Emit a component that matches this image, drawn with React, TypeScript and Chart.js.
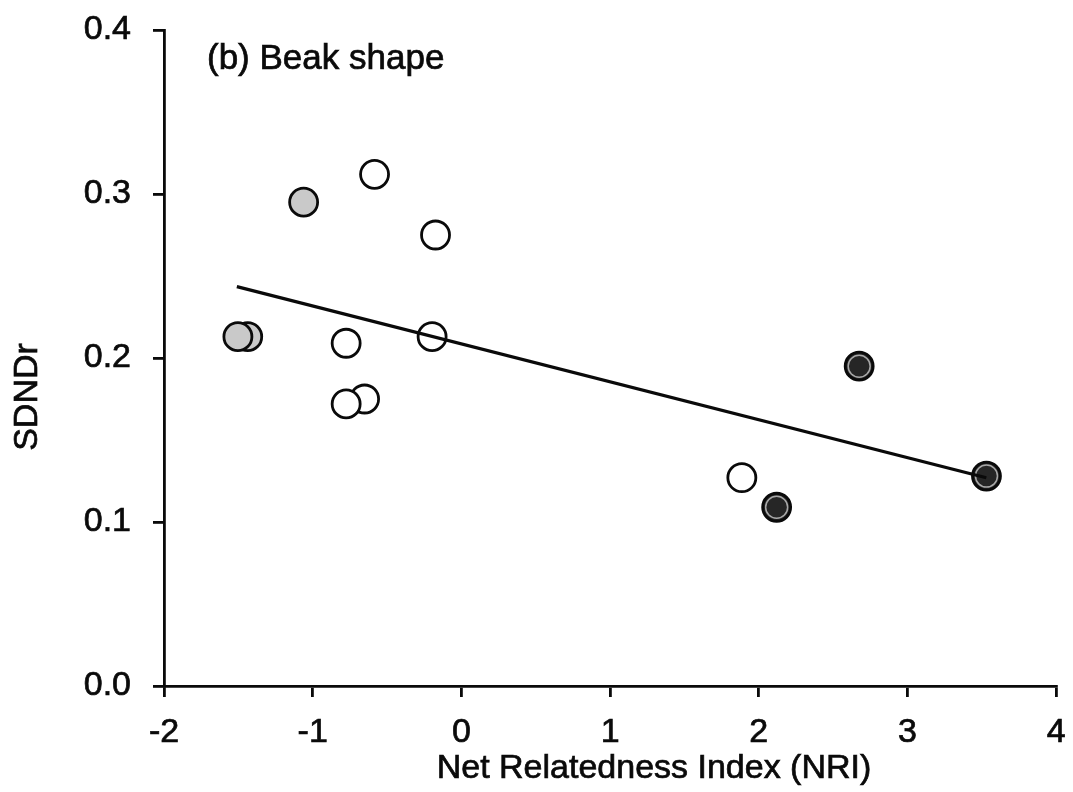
import React, { useEffect, useRef } from "react";
import { Chart, registerables } from "chart.js";

Chart.register(...registerables);

// Axis ticks
const xTicks = [-2, -1, 0, 1, 2, 3, 4];
const yTicks = [0, 0.1, 0.2, 0.3, 0.4];

// Open circles
const openNRI = [-0.584, -0.174, -0.775, -0.197, -0.651, -0.775, 1.886];
const openSDNDr = [0.312, 0.275, 0.209, 0.213, 0.175, 0.172, 0.127];

// Grey circles
const greyNRI = [-1.061, -1.437, -1.503];
const greySDNDr = [0.295, 0.213, 0.213];

// Black circles
const blackNRI = [2.675, 2.12, 3.531];
const blackSDNDr = [0.195, 0.109, 0.128];

// Fitted regression line (end points)
const fitNRI = [-1.51, 3.53];
const fitSDNDr = [0.2435, 0.127];

const panelLabel = "(b) Beak shape";
const xTitle = "Net Relatedness Index (NRI)";
const yTitle = "SDNDr";

const FONT = '"Liberation Sans", Arial, Helvetica, sans-serif';
const INK = "#0a0a0a";

const pts = (xs: number[], ys: number[]) => xs.map((x, i) => ({ x, y: ys[i] }));

// Draws text filled plus a hairline stroke so it matches the heavy print weight
function inkText(ctx: CanvasRenderingContext2D, text: string, x: number, y: number) {
  ctx.fillText(text, x, y);
  ctx.lineWidth = 0.7;
  ctx.strokeStyle = INK;
  ctx.strokeText(text, x, y);
}

// Panel label and axis titles
const labelsPlugin = {
  id: "panelLabels",
  afterDraw(chart: any) {
    const { ctx, chartArea } = chart;
    ctx.save();
    ctx.fillStyle = INK;
    ctx.textBaseline = "alphabetic";

    ctx.font = `35px ${FONT}`;
    ctx.textAlign = "left";
    inkText(ctx, panelLabel, chartArea.left + 43, chartArea.top + 39);

    ctx.font = `34px ${FONT}`;
    ctx.textAlign = "center";
    inkText(ctx, xTitle, chartArea.left + 490, chartArea.bottom + 92);

    ctx.translate(chartArea.left - 127, chartArea.top + 367);
    ctx.rotate(-Math.PI / 2);
    ctx.textAlign = "center";
    inkText(ctx, yTitle, 0, 0);
    ctx.restore();
  },
};

export default function App() {
  const canvasRef = useRef<HTMLCanvasElement | null>(null);

  useEffect(() => {
    const canvas = canvasRef.current;
    if (!canvas) return;
    const chart = new Chart(canvas, {
      type: "scatter",
      data: {
        datasets: [
          {
            type: "line",
            data: pts(fitNRI, fitSDNDr),
            borderColor: INK,
            borderWidth: 3.2,
            pointRadius: 0,
            fill: false,
            order: 0,
          } as any,
          {
            data: pts(blackNRI, blackSDNDr),
            pointRadius: 11,
            backgroundColor: "#262626",
            borderColor: "#a8a8a8",
            borderWidth: 1.5,
            order: 1,
          },
          {
            data: pts(blackNRI, blackSDNDr),
            pointRadius: 14,
            backgroundColor: "#262626",
            borderColor: INK,
            borderWidth: 2.8,
            order: 2,
          },
          {
            data: pts(openNRI, openSDNDr),
            pointRadius: 14,
            backgroundColor: "#ffffff",
            borderColor: INK,
            borderWidth: 2.8,
            order: 3,
          },
          {
            data: pts(greyNRI, greySDNDr),
            pointRadius: 14,
            backgroundColor: "#c9c9c9",
            borderColor: INK,
            borderWidth: 2.8,
            order: 4,
          },
        ],
      },
      options: {
        animation: false,
        responsive: false,
        devicePixelRatio: 1,
        layout: { padding: { top: 30, right: 14, left: 0, bottom: 0 } },
        plugins: { legend: { display: false }, tooltip: { enabled: false } },
        scales: {
          x: {
            type: "linear",
            position: "bottom",
            min: -2,
            max: 4,
            afterBuildTicks: (s: any) => {
              s.ticks = xTicks.map((v) => ({ value: v }));
            },
            afterFit: (s: any) => {
              s.height = 106;
              s.paddingLeft = 0;
              s.paddingRight = 0;
            },
            ticks: {
              color: INK,
              font: { family: FONT, size: 34 },
              padding: 15,
              maxRotation: 0,
              textStrokeColor: INK,
              textStrokeWidth: 0.7,
              callback: (v: any) => String(v),
            },
            grid: {
              drawOnChartArea: false,
              drawTicks: true,
              tickLength: 11,
              color: INK,
              lineWidth: 2.8,
            },
            border: { display: true, color: INK, width: 2.8 },
            title: { display: false },
          },
          y: {
            type: "linear",
            min: 0,
            max: 0.4,
            afterBuildTicks: (s: any) => {
              s.ticks = yTicks.map((v) => ({ value: v }));
            },
            afterFit: (s: any) => {
              s.width = 164;
              s.paddingTop = 0;
              s.paddingBottom = 0;
            },
            ticks: {
              color: INK,
              font: { family: FONT, size: 34 },
              padding: 22,
              textStrokeColor: INK,
              textStrokeWidth: 0.7,
              callback: (v: any) => Number(v).toFixed(1),
            },
            grid: {
              drawOnChartArea: false,
              drawTicks: true,
              tickLength: 11,
              color: INK,
              lineWidth: 2.8,
            },
            border: { display: true, color: INK, width: 2.8 },
            title: { display: false },
          },
        },
      },
      plugins: [labelsPlugin],
    });
    return () => chart.destroy();
  }, []);

  return (
    <div style={{ position: "absolute", left: 0, top: 0, width: 1073, height: 792, background: "#ffffff" }}>
      <canvas ref={canvasRef} width={1073} height={792} style={{ display: "block" }} />
    </div>
  );
}
